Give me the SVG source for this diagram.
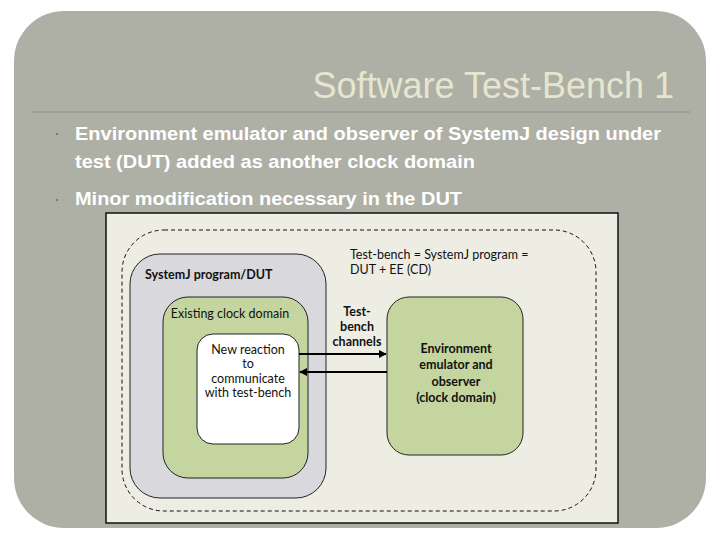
<svg xmlns="http://www.w3.org/2000/svg" width="720" height="540" viewBox="0 0 720 540">
<style>
.bul{font-family:"Liberation Sans",Arial,sans-serif;font-weight:bold;font-size:19px;fill:#ffffff}
.lbl{font-family:"Lato","Open Sans",sans-serif;font-size:12.5px;fill:#111}
.b{font-weight:bold}
.box{stroke:#222;stroke-width:1}
.conn{stroke:#000;stroke-width:2;fill:none}
</style>
<defs>
<marker id="ah" viewBox="0 0 10 10" refX="9" refY="5" markerWidth="4" markerHeight="4" orient="auto-start-reverse" markerUnits="strokeWidth">
<path d="M0,0 L10,5 L0,10 z" fill="#000"/>
</marker>
</defs>
<rect width="720" height="540" fill="#fff"/>
<rect x="14" y="11" width="692" height="517" rx="50" ry="50" fill="#aeafa5"/>
<text x="674" y="98" text-anchor="end" font-family="Liberation Sans,Arial,sans-serif" font-size="36" fill="#e6e6cf">Software Test-Bench 1</text>
<line x1="33" y1="112" x2="690" y2="112" stroke="#84967c" stroke-width="1"/>
<rect x="56" y="133" width="2" height="2" fill="#737a71"/>
<rect x="56" y="199" width="2" height="2" fill="#737a71"/>
<text class="bul" x="75" y="140" textLength="586" lengthAdjust="spacingAndGlyphs">Environment emulator and observer of SystemJ design under</text>
<text class="bul" x="75" y="168" textLength="400" lengthAdjust="spacingAndGlyphs">test (DUT) added as another clock domain</text>
<text class="bul" x="75" y="205" textLength="387" lengthAdjust="spacingAndGlyphs">Minor modification necessary in the DUT</text>
<rect x="106" y="213" width="512" height="310" fill="#eeede4" stroke="#111" stroke-width="1.5"/>
<rect id="testbench" x="122" y="230" width="474" height="281" rx="42" fill="none" stroke="#111" stroke-width="1" stroke-dasharray="4,3"/>
<text class="lbl" font-size="13"><tspan x="350" y="259">Test-bench = SystemJ program =</tspan><tspan x="350" y="274">DUT + EE (CD)</tspan></text>
<g id="dut">
<rect class="box" x="130" y="254" width="196" height="244" rx="30" fill="#d9d9dd"/>
<text class="lbl b" x="145" y="279" font-size="13.2">SystemJ program/DUT</text>
</g>
<g id="existing">
<rect class="box" x="163" y="297" width="145" height="181" rx="25" fill="#c4d59f"/>
<text class="lbl" x="230" y="318" text-anchor="middle" font-size="11.5">Existing clock domain</text>
</g>
<g id="reaction">
<rect class="box" x="197" y="334" width="102" height="110" rx="16" fill="#fff"/>
<text class="lbl" text-anchor="middle" font-size="11.5"><tspan x="248" y="354">New reaction</tspan><tspan x="248" y="368">to</tspan><tspan x="248" y="383">communicate</tspan><tspan x="248" y="397">with test-bench</tspan></text>
</g>
<g id="env">
<rect class="box" x="387" y="297" width="136" height="158" rx="22" fill="#c4d59f"/>
<text class="lbl b" text-anchor="middle" font-size="12.5"><tspan x="456" y="353">Environment</tspan><tspan x="456" y="369">emulator and</tspan><tspan x="456" y="386">observer</tspan><tspan x="456" y="402">(clock domain)</tspan></text>
</g>
<g id="connectors">
<line class="conn" x1="299" y1="354" x2="386" y2="354" marker-end="url(#ah)"/>
<line class="conn" x1="387" y1="372" x2="300" y2="372" marker-end="url(#ah)"/>
<text class="lbl b" text-anchor="middle" font-size="11"><tspan x="357" y="316">Test-</tspan><tspan x="357" y="331">bench</tspan><tspan x="357" y="346">channels</tspan></text>
</g>
</svg>
